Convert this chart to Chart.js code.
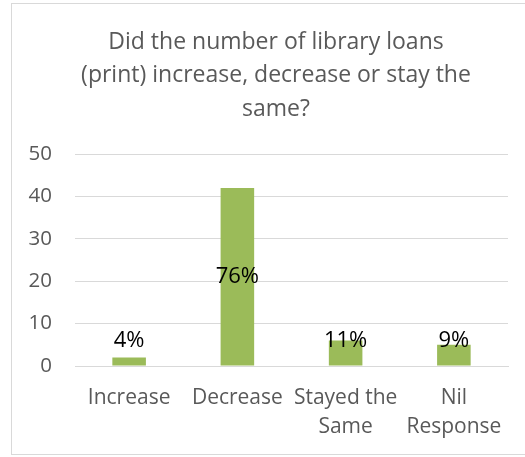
<!DOCTYPE html>
<html>
<head>
<meta charset="utf-8">
<script src="https://cdn.jsdelivr.net/npm/chart.js@4"></script>
<style>
  html, body { margin: 0; padding: 0; background: #fff; overflow: hidden; }
  #wrap { position: relative; width: 525px; height: 457px; }
</style>
</head>
<body>
<div id="wrap"><canvas id="loansChart" width="525" height="457"></canvas></div>
<script>
// survey answers (number of libraries)
const categories = ["Increase", "Decrease", ["Stayed the", "Same"], ["Nil", "Response"]];
const responses = [2, 42, 6, 5];
const yTicks = [0, 10, 20, 30, 40, 50];
const titleLines = [
  "Did the number of library loans",
  "(print) increase, decrease or stay the",
  "same?"
];

const total = responses.reduce((a, b) => a + b, 0);
const percentLabels = responses.map((v) => Math.round((v / total) * 100) + "%");

const textGrey = "#595959";
const fontFamily = "'Open Sans', sans-serif";

// light frame round the chart, and the title centred on the frame
const framePlugin = {
  id: "frame",
  beforeDraw(chart) {
    const ctx = chart.ctx;
    ctx.save();
    ctx.strokeStyle = "#d9d9d9";
    ctx.lineWidth = 1;
    ctx.strokeRect(11.5, 3.5, 540, 451);

    ctx.font = "23px " + fontFamily;
    ctx.fillStyle = textGrey;
    ctx.textAlign = "center";
    ctx.textBaseline = "middle";
    titleLines.forEach((line, i) => {
      ctx.fillText(line, 276, 42.5 + i * 33.3);
    });
    ctx.restore();
  },
};

// percentage labels: centred in tall bars, above the short ones
const percentPlugin = {
  id: "percentLabels",
  afterDatasetsDraw(chart) {
    const ctx = chart.ctx;
    const meta = chart.getDatasetMeta(0);
    const yScale = chart.scales.y;
    ctx.save();
    ctx.font = "22px " + fontFamily;
    ctx.fillStyle = "#000";
    ctx.textAlign = "center";
    ctx.textBaseline = "middle";
    meta.data.forEach((bar, i) => {
      const v = responses[i];
      let y;
      if (v > 10) {
        y = (bar.y + bar.base) / 2;
      } else {
        y = yScale.getPixelForValue(6);
      }
      ctx.fillText(percentLabels[i], bar.x, y);
    });
    ctx.restore();
  },
};

const ctx = document.getElementById("loansChart").getContext("2d");
new Chart(ctx, {
  type: "bar",
  data: {
    labels: categories,
    datasets: [
      {
        data: responses,
        backgroundColor: "#9bbb59",
        borderWidth: 0,
        barPercentage: 0.31,
        categoryPercentage: 1,
      },
    ],
  },
  options: {
    responsive: false,
    animation: false,
    layout: { padding: { left: 20, right: 17, top: 154, bottom: 0 } },
    plugins: {
      legend: { display: false },
      tooltip: { enabled: false },
      title: { display: false },
    },
    scales: {
      x: {
        grid: { display: false },
        border: { color: "#d9d9d9" },
        afterFit(scale) {
          scale.height = 91;
        },
        ticks: {
          color: textGrey,
          font: { family: fontFamily, size: 21, lineHeight: 1.38 },
          padding: 10,
          maxRotation: 0,
          autoSkip: false,
        },
      },
      y: {
        min: 0,
        max: 50,
        afterBuildTicks(scale) {
          scale.ticks = yTicks.map((v) => ({ value: v }));
        },
        afterFit(scale) {
          scale.width = 55;
        },
        grid: { color: "#d9d9d9", drawTicks: false },
        border: { display: false },
        ticks: {
          color: textGrey,
          font: { family: fontFamily, size: 20.5 },
          padding: 23,
        },
      },
    },
  },
  plugins: [framePlugin, percentPlugin],
});
</script>
</body>
</html>
